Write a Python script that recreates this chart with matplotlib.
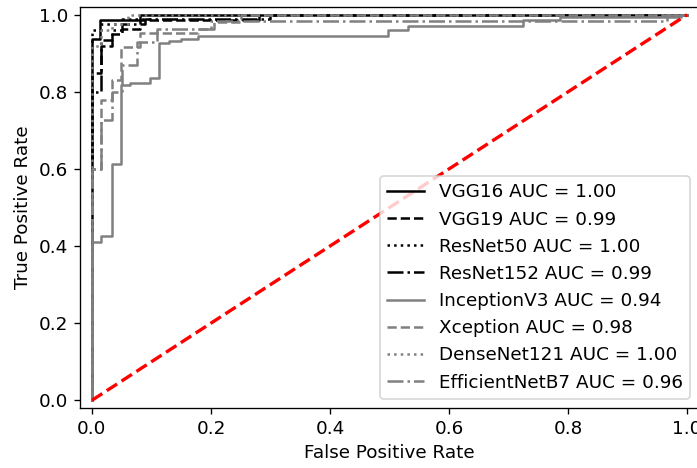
import matplotlib
matplotlib.use("Agg")
import matplotlib.pyplot as plt

models = ["VGG16", "VGG19", "ResNet50", "ResNet152",
          "InceptionV3", "Xception", "DenseNet121", "EfficientNetB7"]
auc_labels = ["1.00", "0.99", "1.00", "0.99", "0.94", "0.98", "1.00", "0.96"]
colors = ["black", "black", "black", "black", "gray", "gray", "gray", "gray"]
styles = ["-", "--", ":", "-.", "-", "--", ":", "-."]

fpr_vgg16 = [0, 0, 0.014, 0.014, 0.081, 0.081, 1]
tpr_vgg16 = [0, 0.937, 0.937, 0.987, 0.987, 1.0, 1]

fpr_vgg19 = [0, 0, 0.016, 0.016, 0.033, 0.033, 0.05, 0.05, 0.08, 0.08, 0.28, 0.28, 1]
tpr_vgg19 = [0, 0.85, 0.85, 0.92, 0.92, 0.95, 0.95, 0.963, 0.963, 0.987, 0.987, 1.0, 1]

fpr_res50 = [0, 0, 0.016, 0.016, 0.05, 0.05, 0.1, 0.1, 1]
tpr_res50 = [0, 0.96, 0.96, 0.975, 0.975, 0.99, 0.99, 1.0, 1]

fpr_res152 = [0, 0, 0.016, 0.016, 0.033, 0.033, 0.05, 0.05, 0.09, 0.09, 0.3, 0.3, 1]
tpr_res152 = [0, 0.80, 0.80, 0.935, 0.935, 0.96, 0.96, 0.975, 0.975, 0.99, 0.99, 1.0, 1]

fpr_incv3 = [0, 0, 0.016, 0.016, 0.033, 0.033, 0.049, 0.049, 0.064, 0.064, 0.097, 0.097,
             0.113, 0.113, 0.13, 0.13, 0.15, 0.15, 0.178, 0.178, 0.497, 0.497, 0.531, 0.531,
             0.724, 0.724, 0.787, 0.787, 0.99, 0.99, 1]
tpr_incv3 = [0, 0.41, 0.41, 0.426, 0.426, 0.613, 0.613, 0.817, 0.817, 0.823, 0.823, 0.837,
             0.837, 0.927, 0.927, 0.932, 0.932, 0.938, 0.938, 0.946, 0.946, 0.961, 0.961, 0.971,
             0.971, 0.987, 0.987, 0.995, 0.995, 1.0, 1]

fpr_xcep = [0, 0, 0.016, 0.016, 0.033, 0.033, 0.049, 0.049, 0.081, 0.081, 0.178, 0.178,
            0.205, 0.205, 0.25, 0.25, 1]
tpr_xcep = [0, 0.60, 0.60, 0.78, 0.78, 0.83, 0.83, 0.917, 0.917, 0.953, 0.953, 0.964,
            0.964, 0.98, 0.98, 1.0, 1]

fpr_dense = [0, 0, 0.016, 0.016, 0.033, 0.033, 0.06, 0.06, 1]
tpr_dense = [0, 0.92, 0.92, 0.96, 0.96, 0.975, 0.975, 1.0, 1]

fpr_effb7 = [0, 0, 0.016, 0.016, 0.033, 0.033, 0.05, 0.05, 0.075, 0.075, 0.11, 0.11,
             0.2, 0.2, 0.967, 0.967, 1]
tpr_effb7 = [0, 0.6, 0.6, 0.727, 0.727, 0.80, 0.80, 0.87, 0.87, 0.93, 0.93, 0.964,
             0.964, 0.984, 0.984, 1.0, 1]

fprs = [fpr_vgg16, fpr_vgg19, fpr_res50, fpr_res152, fpr_incv3, fpr_xcep, fpr_dense, fpr_effb7]
tprs = [tpr_vgg16, tpr_vgg19, tpr_res50, tpr_res152, tpr_incv3, tpr_xcep, tpr_dense, tpr_effb7]

plt.rcParams["font.size"] = 11
dpi = 120
fig = plt.figure(figsize=(697 / dpi, 468 / dpi), dpi=dpi)
ax = fig.add_axes([80 / 697, (468 - 408) / 468, (699 - 80) / 697, (408 - 7) / 468])

for name, auc, c, ls, fx, ty in zip(models, auc_labels, colors, styles, fprs, tprs):
    ax.plot(fx, ty, color=c, linestyle=ls, lw=1.5, label=f"{name} AUC = {auc}")

ax.plot([0, 1], [0, 1], "r--", lw=2)
ax.set_xlim(-0.02, 1.02)
ax.set_ylim(-0.02, 1.02)
ax.set_xlabel("False Positive Rate")
ax.set_ylabel("True Positive Rate")
ax.legend(loc="lower right", fontsize=11)

fig.savefig("out.png", dpi=dpi)
